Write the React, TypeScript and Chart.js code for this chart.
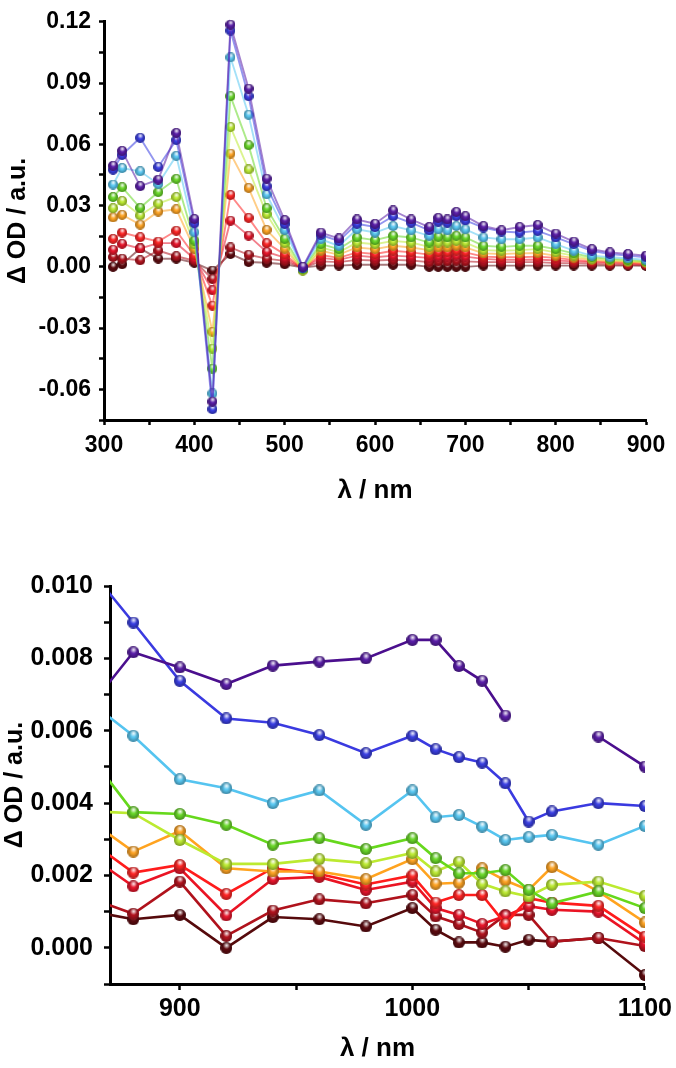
import { useEffect, useRef } from "react"
import { Chart, registerables } from "chart.js"

Chart.register(...registerables)

// ---- top panel (300 - 900 nm) ----
const topWavelengths = [310, 320, 340, 360, 380, 400, 420, 440, 460, 480, 500, 520, 540, 560, 580, 600, 620, 640, 660, 670, 680, 690, 700, 720, 740, 760, 780, 800, 820, 840, 860, 880, 900]

const topPurple = [0.0495, 0.0568, 0.0395, 0.0427, 0.0656, 0.0234, -0.066, 0.1186, 0.0873, 0.0432, 0.0229, 0.0, 0.0168, 0.0139, 0.0232, 0.0211, 0.0276, 0.0232, 0.0195, 0.024, 0.0232, 0.0269, 0.0248, 0.02, 0.0179, 0.0195, 0.0205, 0.0163, 0.0124, 0.0087, 0.0071, 0.0063, 0.0055]
const topBlue = [0.0476, 0.0548, 0.0632, 0.0489, 0.0621, 0.0213, -0.0697, 0.1157, 0.0836, 0.0395, 0.021, -0.0005, 0.0156, 0.0127, 0.0211, 0.0195, 0.0248, 0.0216, 0.0179, 0.0221, 0.0216, 0.0248, 0.0227, 0.0192, 0.0173, 0.0168, 0.0176, 0.0144, 0.0111, 0.0079, 0.0063, 0.0055, 0.0047]
const topLightBlue = [0.0403, 0.0484, 0.0468, 0.0406, 0.0544, 0.0169, -0.062, 0.1026, 0.0745, 0.0355, 0.018, -0.0007, 0.0135, 0.0103, 0.0184, 0.0168, 0.02, 0.0179, 0.0152, 0.0184, 0.0179, 0.02, 0.0184, 0.0144, 0.0135, 0.0135, 0.0144, 0.0111, 0.0079, 0.0055, 0.0047, 0.0042, 0.0034]
const topGreen = [0.0342, 0.039, 0.0289, 0.0366, 0.0431, 0.0129, -0.0498, 0.0836, 0.0596, 0.0287, 0.0137, -0.001, 0.0111, 0.0087, 0.0144, 0.0131, 0.0152, 0.0144, 0.0119, 0.0147, 0.0144, 0.0152, 0.0144, 0.0103, 0.0098, 0.0103, 0.0103, 0.0087, 0.0066, 0.0047, 0.0039, 0.0034, 0.0027]
const topYellowGreen = [0.0287, 0.0323, 0.0252, 0.031, 0.0342, 0.011, -0.04, 0.0685, 0.0477, 0.0258, 0.0116, -0.0018, 0.0095, 0.0071, 0.0119, 0.0111, 0.0127, 0.0119, 0.0098, 0.0119, 0.0119, 0.0127, 0.0119, 0.0082, 0.0079, 0.0082, 0.0087, 0.0071, 0.0055, 0.0039, 0.0034, 0.0028, 0.0023]
const topOrange = [0.0242, 0.0255, 0.0207, 0.0271, 0.0282, 0.0089, -0.0318, 0.0555, 0.0387, 0.0181, 0.0089, -0.0015, 0.0079, 0.006, 0.0095, 0.0087, 0.0103, 0.0095, 0.0082, 0.0095, 0.0095, 0.0103, 0.0095, 0.0066, 0.0063, 0.0066, 0.0068, 0.0055, 0.0044, 0.0034, 0.0028, 0.0024, 0.002]
const topRed = [0.0137, 0.0168, 0.0145, 0.0124, 0.0177, 0.0056, -0.019, 0.0352, 0.024, 0.0116, 0.0061, -0.001, 0.0058, 0.0044, 0.0071, 0.0063, 0.0079, 0.0071, 0.006, 0.0071, 0.0071, 0.0079, 0.0071, 0.005, 0.0047, 0.0047, 0.005, 0.0044, 0.0034, 0.0027, 0.0023, 0.002, 0.0016]
const topRed2 = [0.0084, 0.0113, 0.009, 0.0116, 0.0116, 0.004, -0.0115, 0.0226, 0.0153, 0.0073, 0.0045, -0.0008, 0.0044, 0.0034, 0.0055, 0.0047, 0.0055, 0.005, 0.0044, 0.005, 0.005, 0.0055, 0.005, 0.0039, 0.0034, 0.0034, 0.0036, 0.0031, 0.0027, 0.0023, 0.0018, 0.0016, 0.0012]
const topDarkRed = [0.0048, 0.004, 0.0032, 0.008, 0.0052, 0.003, -0.006, 0.0095, 0.0059, 0.004, 0.0029, -0.0005, 0.0027, 0.0023, 0.0034, 0.0031, 0.0034, 0.0031, 0.0023, 0.0027, 0.0027, 0.003, 0.0027, 0.0023, 0.0023, 0.0023, 0.0023, 0.0018, 0.0018, 0.0015, 0.0011, 0.001, 0.0008]
const topBrown = [0.0, 0.0013, 0.009, 0.004, 0.004, 0.002, -0.0018, 0.0063, 0.0024, 0.002, 0.0013, -0.0003, 0.0006, 0.0006, 0.001, 0.001, 0.001, 0.001, 0.0, 0.0, 0.0, 0.0, 0.0, 0.0006, 0.0006, 0.0006, 0.0006, 0.0006, 0.0006, 0.0006, 0.0006, 0.0006, 0.0005]

const topXTicks = [300, 350, 400, 450, 500, 550, 600, 650, 700, 750, 800, 850, 900]
const topXLabels = [300, 400, 500, 600, 700, 800, 900]
const topYTicks = [-0.075, -0.06, -0.045, -0.03, -0.015, 0, 0.015, 0.03, 0.045, 0.06, 0.075, 0.09, 0.105, 0.12]
const topYLabels = [-0.06, -0.03, 0, 0.03, 0.06, 0.09, 0.12]

// ---- bottom panel (870 - 1100 nm) ----
const bottomWavelengths = [860, 880, 900, 920, 940, 960, 980, 1000, 1010, 1020, 1030, 1040, 1050, 1060, 1080, 1100]

const bottomPurple = [0.00655, 0.00817, 0.00775, 0.00729, 0.0078, 0.00791, 0.008, 0.00851, 0.00851, 0.00779, 0.00738, 0.00642, null, null, 0.00584, 0.00501]
const bottomBlue = [0.01057, 0.00899, 0.00738, 0.00634, 0.00622, 0.00588, 0.00538, 0.00586, 0.00549, 0.00527, 0.00512, 0.00455, 0.00349, 0.00377, 0.004, 0.00392]
const bottomLightBlue = [0.00686, 0.00586, 0.00466, 0.00441, 0.004, 0.00435, 0.0034, 0.00435, 0.00361, 0.00367, 0.00335, 0.00298, 0.00306, 0.00312, 0.00285, 0.00337]
const bottomGreen = [0.00543, 0.00375, 0.0037, 0.0034, 0.00285, 0.00303, 0.00273, 0.00303, 0.00248, 0.00206, 0.00206, 0.00215, 0.0016, 0.00123, 0.00156, 0.0011]
const bottomYellowGreen = [0.00378, 0.00372, 0.00298, 0.00232, 0.00232, 0.00245, 0.00234, 0.00262, 0.00211, 0.00238, 0.00177, 0.00156, 0.00142, 0.00174, 0.00183, 0.00144]
const bottomOrange = [0.00358, 0.00266, 0.00323, 0.0022, 0.00211, 0.00211, 0.0019, 0.00245, 0.00177, 0.0018, 0.0022, 0.00186, 0.0016, 0.00223, 0.00156, 0.0007]
const bottomRed = [0.00302, 0.00208, 0.00229, 0.00149, 0.0022, 0.00204, 0.00175, 0.002, 0.00125, 0.00146, 0.00146, 0.00066, 0.00137, 0.00125, 0.00116, 0.00031]
const bottomRed2 = [0.0026, 0.0017, 0.0022, 0.0009, 0.0019, 0.00196, 0.0016, 0.00183, 0.0011, 0.00091, 0.00066, 0.00088, 0.00115, 0.00105, 0.001, 0.00012]
const bottomDarkRed = [0.0014, 0.00094, 0.00183, 0.00033, 0.00103, 0.00134, 0.00123, 0.00146, 0.00087, 0.00066, 0.00042, 0.00091, 0.00091, 0.00017, 0.00027, 0.00005]
const bottomBrown = [0.00103, 0.00079, 0.00091, 0.0, 0.00085, 0.00079, 0.00059, 0.0011, 0.0005, 0.00015, 0.00015, 0.00003, 0.00022, 0.00017, 0.00027, -0.00075]

const bottomXTicks = [900, 950, 1000, 1050, 1100]
const bottomXLabels = [900, 1000, 1100]
const bottomYTicks = [-0.001, 0, 0.001, 0.002, 0.003, 0.004, 0.005, 0.006, 0.007, 0.008, 0.009, 0.01]
const bottomYLabels = [0, 0.002, 0.004, 0.006, 0.008, 0.01]

// colours of the ten traces, purple (top) to dark brown (bottom)
const traceColors = ["#5a1ea8", "#3a3fe2", "#5ac8f2", "#6ad82a", "#bdeb34", "#ffa424", "#ff2626", "#e8162c", "#b3141f", "#5e0b10"]
const bottomLineColors = ["#4b0f8e", "#3a3ae0", "#55c4f0", "#66d81c", "#bcea30", "#ffa31f", "#ff1c1c", "#ea1424", "#b0121c", "#560a0c"]

const FONT = "'Liberation Sans', Arial, Helvetica, sans-serif"

const ballCache = new Map<string, HTMLCanvasElement>()

// small shaded sphere used as the marker
function ball(color: string, d: number) {
  const key = color + d
  const hit = ballCache.get(key)
  if (hit) return hit
  const c = document.createElement("canvas")
  c.width = d
  c.height = d
  const ctx = c.getContext("2d")!
  const r = d / 2
  ctx.beginPath()
  ctx.arc(r, r, r, 0, Math.PI * 2)
  ctx.fillStyle = color
  ctx.fill()
  const shade = ctx.createRadialGradient(r, r, r * 0.3, r, r, r)
  shade.addColorStop(0, "rgba(0,0,0,0)")
  shade.addColorStop(1, "rgba(0,0,0,0.35)")
  ctx.fillStyle = shade
  ctx.fill()
  const light = ctx.createRadialGradient(r * 1.05, r * 0.6, 0, r * 1.05, r * 0.6, r * 0.6)
  light.addColorStop(0, "rgba(255,255,255,0.95)")
  light.addColorStop(1, "rgba(255,255,255,0)")
  ctx.fillStyle = light
  ctx.fill()
  ballCache.set(key, c)
  return c
}

function hexAlpha(hex: string, a: number) {
  const n = parseInt(hex.slice(1), 16)
  return `rgba(${(n >> 16) & 255},${(n >> 8) & 255},${n & 255},${a})`
}

const isIn = (list: number[], v: number) => list.some((m) => Math.abs(m - v) < 1e-9)

function axisStyle(tickLength: number) {
  return {
    grid: { display: true, drawOnChartArea: false, drawTicks: true, tickLength, tickWidth: 2.5, tickColor: "#000" },
    border: { display: true, color: "#000", width: 3 },
  }
}

function buildDatasets(xs: number[], series: (number | null)[][], lineColors: string[], lineWidth: number, size: number) {
  return series.map((ys, i) => ({
    label: "trace " + (i + 1),
    data: xs.map((x, j) => ({ x, y: ys[j] })),
    borderColor: lineColors[i],
    borderWidth: lineWidth,
    pointStyle: ball(traceColors[i], size),
    pointRadius: size / 2,
    tension: 0,
    spanGaps: false,
    clip: { left: 0, right: 0, top: false, bottom: false },
  }))
}

interface PanelProps {
  width: number
  height: number
  xs: number[]
  series: (number | null)[][]
  lineColors: string[]
  lineWidth: number
  ballSize: number
  xMin: number
  xMax: number
  yMin: number
  yMax: number
  xTicks: number[]
  xLabels: number[]
  yTicks: number[]
  yLabels: number[]
  yDigits: number
  area: { left: number; right: number; top: number; bottom: number }
  tickFont: number
  tickLength: number
  xTickPad: number
  yTickPad: number
  xTitlePad: number
  yTitlePad: number
}

function SpectrumPanel(p: PanelProps) {
  const canvasRef = useRef<HTMLCanvasElement>(null)

  useEffect(() => {
    if (!canvasRef.current) return
    const chart = new Chart(canvasRef.current, {
      type: "line",
      data: { datasets: buildDatasets(p.xs, p.series, p.lineColors, p.lineWidth, p.ballSize) as any },
      options: {
        responsive: false,
        animation: false,
        layout: { padding: { left: 0, top: p.area.top, right: p.width - p.area.right, bottom: 0 } },
        plugins: { legend: { display: false }, tooltip: { enabled: false } },
        scales: {
          x: {
            type: "linear",
            min: p.xMin,
            max: p.xMax,
            ...axisStyle(p.tickLength),
            afterBuildTicks: (axis: any) => {
              axis.ticks = p.xTicks.map((value) => ({ value }))
            },
            afterFit: (axis: any) => {
              axis.height = p.height - p.area.bottom
            },
            ticks: {
              autoSkip: false,
              maxRotation: 0,
              padding: p.xTickPad,
              color: "#000",
              font: { family: FONT, size: p.tickFont, weight: "bold" },
              callback: (v: any) => (isIn(p.xLabels, Number(v)) ? String(v) : ""),
            },
            title: {
              display: true,
              text: "λ / nm",
              color: "#000",
              font: { family: FONT, size: 26, weight: "bold" },
              padding: { top: 0, bottom: p.xTitlePad },
            },
          },
          y: {
            type: "linear",
            min: p.yMin,
            max: p.yMax,
            ...axisStyle(p.tickLength),
            afterBuildTicks: (axis: any) => {
              axis.ticks = p.yTicks.map((value) => ({ value }))
            },
            afterFit: (axis: any) => {
              axis.width = p.area.left
            },
            ticks: {
              autoSkip: false,
              padding: p.yTickPad,
              color: "#000",
              font: { family: FONT, size: p.tickFont, weight: "bold" },
              callback: (v: any) => (isIn(p.yLabels, Number(v)) ? Number(v).toFixed(p.yDigits) : ""),
            },
            title: {
              display: true,
              text: "Δ OD / a.u.",
              color: "#000",
              font: { family: FONT, size: 25, weight: "bold" },
              padding: { top: p.yTitlePad, bottom: 0 },
            },
          },
        },
      } as any,
    })
    return () => chart.destroy()
  }, [])

  return <canvas ref={canvasRef} width={p.width} height={p.height} style={{ display: "block" }} />
}

export default function App() {
  useEffect(() => {
    document.body.style.margin = "0"
  }, [])

  return (
    <div style={{ width: 676, height: 1068, background: "#fff" }}>
      <SpectrumPanel
        width={676}
        height={540}
        xs={topWavelengths}
        series={[topPurple, topBlue, topLightBlue, topGreen, topYellowGreen, topOrange, topRed, topRed2, topDarkRed, topBrown]}
        lineColors={traceColors.map((c) => hexAlpha(c, 0.55))}
        lineWidth={1.9}
        ballSize={10}
        xMin={300}
        xMax={900}
        yMin={-0.075}
        yMax={0.12}
        xTicks={topXTicks}
        xLabels={topXLabels}
        yTicks={topYTicks}
        yLabels={topYLabels}
        yDigits={2}
        area={{ left: 104, right: 646, top: 15, bottom: 420 }}
        tickFont={23}
        tickLength={5}
        xTickPad={7}
        yTickPad={8}
        xTitlePad={34}
        yTitlePad={3}
      />
      <SpectrumPanel
        width={676}
        height={528}
        xs={bottomWavelengths}
        series={[bottomPurple, bottomBlue, bottomLightBlue, bottomGreen, bottomYellowGreen, bottomOrange, bottomRed, bottomRed2, bottomDarkRed, bottomBrown]}
        lineColors={bottomLineColors}
        lineWidth={2.6}
        ballSize={12}
        xMin={870}
        xMax={1100}
        yMin={-0.001}
        yMax={0.01}
        xTicks={bottomXTicks}
        xLabels={bottomXLabels}
        yTicks={bottomYTicks}
        yLabels={bottomYLabels}
        yDigits={3}
        area={{ left: 110, right: 648, top: 46, bottom: 444 }}
        tickFont={25}
        tickLength={6}
        xTickPad={4}
        yTickPad={11}
        xTitlePad={4}
        yTitlePad={0}
      />
    </div>
  )
}
